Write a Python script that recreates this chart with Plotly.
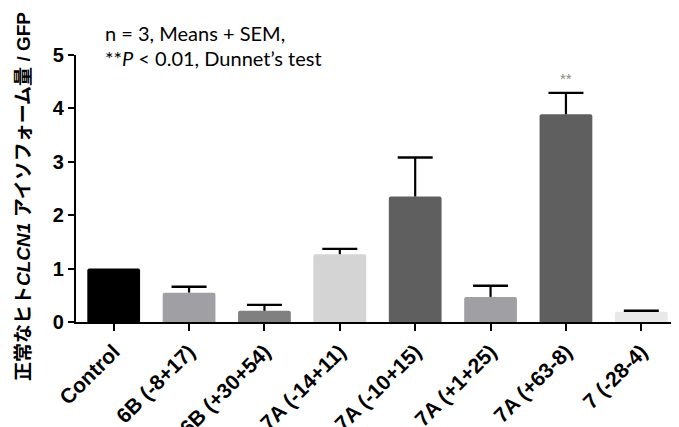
import plotly.graph_objects as go

categories = ["Control", "6B (-8+17)", "6B (+30+54)", "7A (-14+11)",
              "7A (-10+15)", "7A (+1+25)", "7A (+63-8)", "7 (-28-4)"]
means = [1.00, 0.55, 0.21, 1.27, 2.35, 0.47, 3.89, 0.19]
sem = [0.0, 0.11, 0.11, 0.10, 0.73, 0.21, 0.40, 0.02]
colors = ["#000000", "#a0a0a4", "#808080", "#d4d4d4",
          "#5f5f5f", "#a0a0a4", "#5f5f5f", "#e8e8e8"]
y_ticks = [0, 1, 2, 3, 4, 5]

# page offset (default body margin of the html page)
OFF = 8
W, H = 679, 427
# desired plot area in page pixels: left 76, right 679, top 55, bottom 322
ML = 76 - OFF
MT = 55 - OFF
MR = W - (679 - OFF)
MB = H - (322 - OFF)
pw, ph = W - ML - MR, H - MT - MB

fig = go.Figure()
fig.add_trace(go.Bar(
    x=list(range(len(categories))), y=means,
    marker=dict(color=colors, line=dict(width=0), cornerradius=2),
    width=0.7,
    error_y=dict(type="data", array=sem, arrayminus=[0] * len(sem),
                 symmetric=False, color="#000000", thickness=2.2, width=0,
                 visible=True),
    showlegend=False, hoverinfo="skip",
))

# caps of the upper error bars
cap_x = [i for i, s in enumerate(sem) if s > 0]
cap_y = [means[i] + sem[i] for i in cap_x]
fig.add_trace(go.Scatter(
    x=cap_x, y=cap_y, mode="markers",
    marker=dict(symbol="line-ew", size=25, color="#000000",
                line=dict(width=2.4, color="#000000")),
    showlegend=False, hoverinfo="skip", cliponaxis=False,
))

tick_font = dict(family="Liberation Sans, Arial, sans-serif", size=21, color="#000000")

fig.update_layout(
    width=W, height=H,
    margin=dict(l=ML, r=MR, t=MT, b=MB, autoexpand=False),
    paper_bgcolor="#ffffff", plot_bgcolor="#ffffff",
    xaxis=dict(
        range=[-0.5, 7.5], showline=True, linecolor="#000000", linewidth=2.2,
        ticks="outside", ticklen=7, tickwidth=2, tickcolor="#000000",
        tickangle=-45, showgrid=False, zeroline=False,
        tickfont=tick_font,
        tickvals=list(range(len(categories))),
        ticktext=["<b>%s</b>" % c for c in categories],
        automargin=False,
    ),
    yaxis=dict(
        range=[0, 5], showline=True, linecolor="#000000", linewidth=2.2,
        ticks="outside", ticklen=6, tickwidth=2, tickcolor="#000000",
        tickvals=y_ticks, ticktext=["<b>%d</b>" % t for t in y_ticks],
        tickfont=dict(family="Liberation Sans, Arial, sans-serif", size=20, color="#000000"),
        showgrid=False, zeroline=False, automargin=False,
    ),
)

def px_x(p):
    return (p - OFF - ML) / pw

def px_y(p):
    return (H - MB - (p - OFF)) / ph

fig.add_annotation(
    text="<b>正常なヒト<i>CLCN1</i> アイソフォーム量 / GFP</b>",
    xref="paper", yref="paper", x=px_x(23), y=px_y(197),
    xanchor="center", yanchor="middle", textangle=-90, showarrow=False,
    font=dict(family="Liberation Sans, Noto Sans CJK JP, sans-serif", size=19, color="#000000"),
)
fig.add_annotation(
    text="n = 3, Means + SEM,",
    xref="paper", yref="paper", x=px_x(103), y=px_y(33),
    xanchor="left", yanchor="middle", showarrow=False,
    font=dict(family="Lato, sans-serif", size=20, color="#000000"),
)
fig.add_annotation(
    text="**<i>P</i> &lt; 0.01, Dunnet’s test",
    xref="paper", yref="paper", x=px_x(103), y=px_y(58),
    xanchor="left", yanchor="middle", showarrow=False,
    font=dict(family="Lato, sans-serif", size=20, color="#000000"),
)
fig.add_annotation(
    text="**", x=6, y=means[6] + sem[6], xref="x", yref="y",
    yanchor="bottom", yshift=4, showarrow=False,
    font=dict(family="Liberation Sans, Arial, sans-serif", size=15, color="#8a8a8a"),
)

fig.write_html("out.html")
